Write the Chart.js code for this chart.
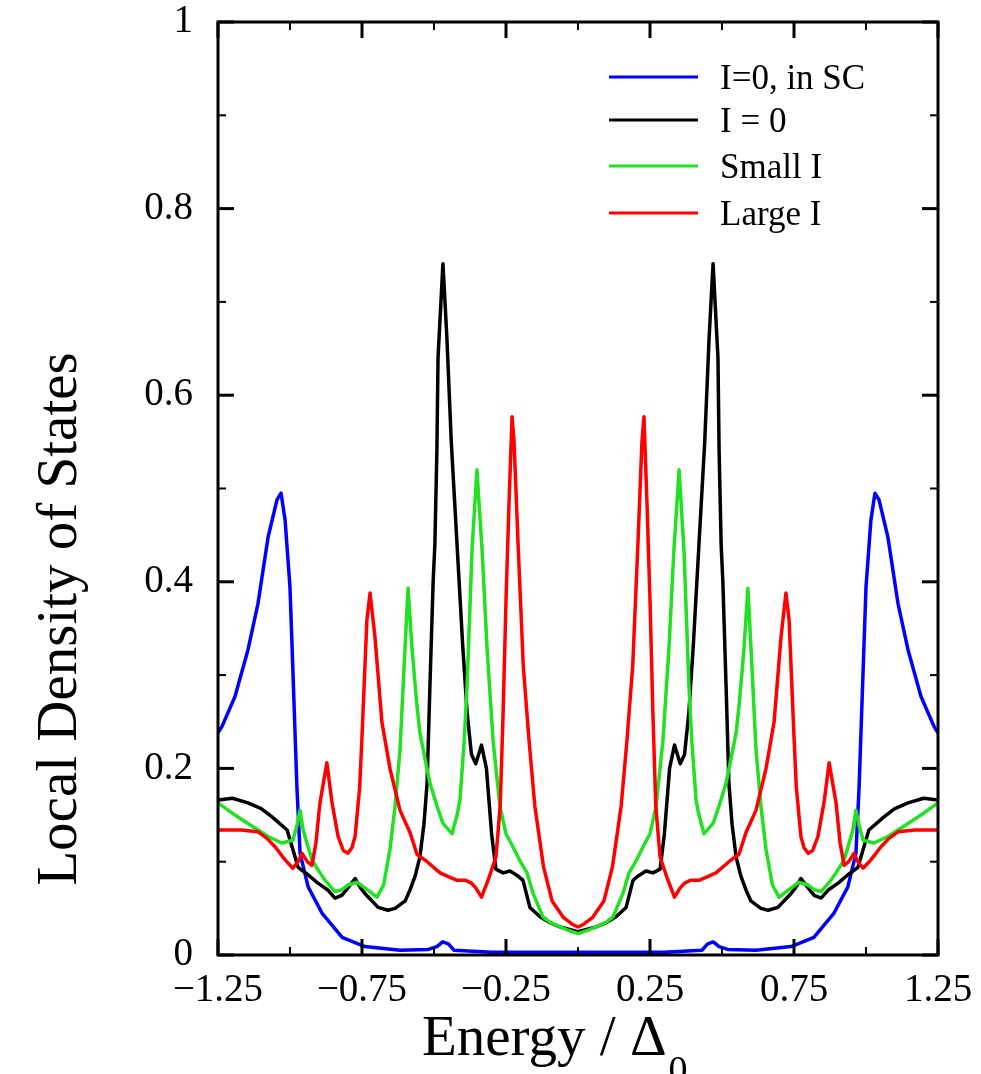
<!DOCTYPE html>
<html><head><meta charset="utf-8">
<script src="https://cdn.jsdelivr.net/npm/chart.js@4.4.1/dist/chart.umd.min.js"></script>
<style>html,body{margin:0;padding:0;background:#fff;}#wrap{width:981px;height:1074px;}</style>
</head><body><div id="wrap"><canvas id="c" width="981" height="1074"></canvas></div>
<script>
const xMajorTicks = [-1.25, -0.75, -0.25, 0.25, 0.75, 1.25];
const xTickLabels = ['\u22121.25', '\u22120.75', '\u22120.25', '0.25', '0.75', '1.25'];
const xMinorTicks = [-1, -0.5, 0, 0.5, 1];
const yMajorTicks = [0, 0.2, 0.4, 0.6, 0.8, 1];
const yTickLabels = ['0', '0.2', '0.4', '0.6', '0.8', '1'];
const yMinorTicks = [0.1, 0.3, 0.5, 0.7, 0.9];
const seriesNames = ['I=0, in SC', 'I = 0', 'Small I', 'Large I'];
const xTitle = 'Energy / \u0394';
const xTitleSub = '0';
const yTitle = 'Local Density of States';

// I=0, in SC  [energy, LDOS]
const scPts = [[-1.25,0.238],[-1.236,0.245],[-1.191,0.277],[-1.146,0.327],[-1.111,0.377],[-1.076,0.448],[-1.045,0.488],[-1.031,0.495],[-1.017,0.466],[-1.0,0.394],[-0.99,0.305],[-0.976,0.18],[-0.965,0.109],[-0.937,0.073],[-0.889,0.045],[-0.819,0.019],[-0.74,0.009],[-0.618,0.005],[-0.52,0.006],[-0.49,0.009],[-0.47,0.014],[-0.45,0.012],[-0.43,0.005],[-0.3,0.003],[-0.1,0.003],[0,0.003],
[0.1,0.003],[0.3,0.003],[0.43,0.005],[0.45,0.012],[0.47,0.014],[0.49,0.009],[0.52,0.006],[0.618,0.005],[0.74,0.009],[0.819,0.019],[0.889,0.045],[0.937,0.073],[0.965,0.109],[0.976,0.18],[0.99,0.305],[1.0,0.394],[1.017,0.466],[1.031,0.495],[1.045,0.488],[1.076,0.448],[1.111,0.377],[1.146,0.327],[1.191,0.277],[1.236,0.245],[1.25,0.238]];

// I = 0
const zeroPts = [[-1.25,0.166],[-1.2,0.168],[-1.146,0.163],[-1.1,0.157],[-1.0625,0.148],[-1.01,0.134],[-0.99,0.113],[-0.972,0.094],[-0.9375,0.086],[-0.903,0.077],[-0.87,0.07],[-0.844,0.061],[-0.82,0.064],[-0.799,0.072],[-0.774,0.082],[-0.755,0.072],[-0.74,0.066],[-0.694,0.051],[-0.66,0.048],[-0.635,0.05],[-0.6,0.058],[-0.583,0.07],[-0.565,0.085],[-0.549,0.105],[-0.535,0.14],[-0.524,0.184],[-0.514,0.29],[-0.503,0.40],[-0.497,0.44],[-0.49,0.54],[-0.486,0.64],[-0.469,0.741],[-0.455,0.66],[-0.44,0.55],[-0.42,0.44],[-0.40,0.33],[-0.385,0.26],[-0.37,0.215],[-0.355,0.205],[-0.335,0.225],[-0.318,0.2],[-0.30,0.13],[-0.285,0.092],[-0.26,0.088],[-0.236,0.09],[-0.21,0.085],[-0.191,0.08],[-0.167,0.051],[-0.132,0.041],[-0.1,0.035],[-0.0625,0.03],[0,0.025],
[0.0625,0.03],[0.1,0.035],[0.132,0.041],[0.167,0.051],[0.191,0.08],[0.21,0.085],[0.236,0.09],[0.26,0.088],[0.285,0.092],[0.30,0.13],[0.318,0.2],[0.335,0.225],[0.355,0.205],[0.37,0.215],[0.385,0.26],[0.40,0.33],[0.42,0.44],[0.44,0.55],[0.455,0.66],[0.469,0.741],[0.486,0.64],[0.49,0.54],[0.497,0.44],[0.503,0.40],[0.514,0.29],[0.524,0.184],[0.535,0.14],[0.549,0.105],[0.565,0.085],[0.583,0.07],[0.6,0.058],[0.635,0.05],[0.66,0.048],[0.694,0.051],[0.74,0.066],[0.755,0.072],[0.774,0.082],[0.799,0.072],[0.82,0.064],[0.844,0.061],[0.87,0.07],[0.903,0.077],[0.9375,0.086],[0.972,0.094],[0.99,0.113],[1.01,0.134],[1.0625,0.148],[1.1,0.157],[1.146,0.163],[1.2,0.168],[1.25,0.166]];

// Small I
const smallPts = [[-1.25,0.163],[-1.2,0.152],[-1.146,0.141],[-1.076,0.127],[-1.028,0.12],[-0.99,0.123],[-0.975,0.14],[-0.965,0.155],[-0.955,0.135],[-0.948,0.127],[-0.924,0.102],[-0.9,0.09],[-0.878,0.08],[-0.844,0.068],[-0.82,0.07],[-0.799,0.075],[-0.767,0.078],[-0.74,0.072],[-0.698,0.062],[-0.675,0.075],[-0.653,0.113],[-0.635,0.16],[-0.618,0.22],[-0.601,0.327],[-0.59,0.393],[-0.576,0.327],[-0.56,0.27],[-0.549,0.238],[-0.514,0.184],[-0.49,0.16],[-0.469,0.141],[-0.4375,0.13],[-0.42,0.15],[-0.41,0.166],[-0.395,0.23],[-0.385,0.29],[-0.368,0.434],[-0.351,0.52],[-0.333,0.434],[-0.316,0.33],[-0.295,0.23],[-0.271,0.159],[-0.25,0.13],[-0.226,0.116],[-0.2,0.1],[-0.177,0.088],[-0.156,0.066],[-0.122,0.041],[-0.097,0.035],[-0.038,0.027],[0,0.023],
[0.038,0.027],[0.097,0.035],[0.122,0.041],[0.156,0.066],[0.177,0.088],[0.2,0.1],[0.226,0.116],[0.25,0.13],[0.271,0.159],[0.295,0.23],[0.316,0.33],[0.333,0.434],[0.351,0.52],[0.368,0.434],[0.385,0.29],[0.395,0.23],[0.41,0.166],[0.42,0.15],[0.4375,0.13],[0.469,0.141],[0.49,0.16],[0.514,0.184],[0.549,0.238],[0.56,0.27],[0.576,0.327],[0.59,0.393],[0.601,0.327],[0.618,0.22],[0.635,0.16],[0.653,0.113],[0.675,0.075],[0.698,0.062],[0.74,0.072],[0.767,0.078],[0.799,0.075],[0.82,0.07],[0.844,0.068],[0.878,0.08],[0.9,0.09],[0.924,0.102],[0.948,0.127],[0.955,0.135],[0.965,0.155],[0.975,0.14],[0.99,0.123],[1.028,0.12],[1.076,0.127],[1.146,0.141],[1.2,0.152],[1.25,0.163]];

// Large I
const largePts = [[-1.25,0.134],[-1.17,0.134],[-1.111,0.132],[-1.08,0.125],[-1.052,0.116],[-1.017,0.102],[-0.99,0.093],[-0.972,0.1],[-0.958,0.109],[-0.94,0.1],[-0.924,0.096],[-0.91,0.12],[-0.896,0.163],[-0.872,0.206],[-0.854,0.163],[-0.833,0.127],[-0.815,0.112],[-0.799,0.109],[-0.785,0.115],[-0.774,0.127],[-0.758,0.18],[-0.75,0.234],[-0.733,0.359],[-0.722,0.388],[-0.705,0.341],[-0.681,0.25],[-0.653,0.2],[-0.618,0.155],[-0.583,0.131],[-0.559,0.108],[-0.524,0.1],[-0.479,0.088],[-0.45,0.084],[-0.42,0.08],[-0.39,0.08],[-0.37,0.077],[-0.355,0.072],[-0.335,0.062],[-0.31,0.082],[-0.285,0.105],[-0.27,0.16],[-0.26,0.26],[-0.25,0.38],[-0.24,0.48],[-0.229,0.577],[-0.222,0.55],[-0.208,0.44],[-0.19,0.31],[-0.17,0.23],[-0.15,0.16],[-0.12,0.095],[-0.09,0.058],[-0.05,0.04],[-0.02,0.033],[0,0.03],
[0.02,0.033],[0.05,0.04],[0.09,0.058],[0.12,0.095],[0.15,0.16],[0.17,0.23],[0.19,0.31],[0.208,0.44],[0.222,0.55],[0.229,0.577],[0.24,0.48],[0.25,0.38],[0.26,0.26],[0.27,0.16],[0.285,0.105],[0.31,0.082],[0.335,0.062],[0.355,0.072],[0.37,0.077],[0.39,0.08],[0.42,0.08],[0.45,0.084],[0.479,0.088],[0.524,0.1],[0.559,0.108],[0.583,0.131],[0.618,0.155],[0.653,0.2],[0.681,0.25],[0.705,0.341],[0.722,0.388],[0.733,0.359],[0.75,0.234],[0.758,0.18],[0.774,0.127],[0.785,0.115],[0.799,0.109],[0.815,0.112],[0.833,0.127],[0.854,0.163],[0.872,0.206],[0.896,0.163],[0.91,0.12],[0.924,0.096],[0.94,0.1],[0.958,0.109],[0.972,0.1],[0.99,0.093],[1.017,0.102],[1.052,0.116],[1.08,0.125],[1.111,0.132],[1.17,0.134],[1.25,0.134]];

const SERIF = '"Liberation Serif", "DejaVu Serif", serif';
const toXY = pts => pts.map(p => ({x: p[0], y: p[1]}));

const decor = {
  id: 'decor',
  afterDatasetsDraw(chart) {
    const {ctx, chartArea: a, scales: {x, y}} = chart;
    ctx.save();
    ctx.strokeStyle = '#000';
    ctx.lineCap = 'butt';
    const seg = (px, py, dx, dy, w) => { ctx.lineWidth = w; ctx.beginPath(); ctx.moveTo(px, py); ctx.lineTo(px + dx, py + dy); ctx.stroke(); };
    xMajorTicks.forEach(v => { const p = x.getPixelForValue(v); seg(p, a.bottom, 0, -16, 3); seg(p, a.top, 0, 16, 3); });
    xMinorTicks.forEach(v => { const p = x.getPixelForValue(v); seg(p, a.bottom, 0, -8, 2); seg(p, a.top, 0, 8, 2); });
    yMajorTicks.forEach(v => { const p = y.getPixelForValue(v); seg(a.left, p, 16, 0, 3); seg(a.right, p, -16, 0, 3); });
    yMinorTicks.forEach(v => { const p = y.getPixelForValue(v); seg(a.left, p, 8, 0, 2); seg(a.right, p, -8, 0, 2); });
    ctx.lineWidth = 3;
    ctx.strokeRect(a.left, a.top, a.right - a.left, a.bottom - a.top);

    // legend
    const rows = [77, 120, 166, 213];
    ctx.font = '35px ' + SERIF;
    ctx.textAlign = 'left';
    ctx.textBaseline = 'alphabetic';
    chart.data.datasets.forEach((ds, i) => {
      ctx.strokeStyle = ds.borderColor;
      ctx.lineWidth = 3;
      ctx.beginPath(); ctx.moveTo(609, rows[i]); ctx.lineTo(698, rows[i]); ctx.stroke();
      ctx.fillStyle = '#000';
      ctx.fillText(ds.label, 720, rows[i] + 12);
    });

    // x title with subscript
    ctx.fillStyle = '#000';
    ctx.font = '57px ' + SERIF;
    ctx.textAlign = 'left';
    ctx.fillText(xTitle, 422, 1055);
    const w = ctx.measureText(xTitle).width;
    ctx.font = '38px ' + SERIF;
    ctx.fillText(xTitleSub, 422 + w + 2, 1082);

    // y title
    ctx.save();
    ctx.translate(76, 619);
    ctx.rotate(-Math.PI / 2);
    ctx.font = '57px ' + SERIF;
    ctx.textAlign = 'center';
    ctx.textBaseline = 'alphabetic';
    ctx.fillText(yTitle, 0, 0);
    ctx.restore();
    ctx.restore();
  }
};

const lineDs = (label, pts, color, order) => ({
  label, data: toXY(pts), borderColor: color, backgroundColor: color,
  borderWidth: 3.5, pointRadius: 0, showLine: true, tension: 0, fill: false, order,
  borderJoinStyle: 'round'
});

new Chart(document.getElementById('c'), {
  type: 'scatter',
  data: {
    datasets: [
      lineDs(seriesNames[0], scPts, '#0000ff', 4),
      lineDs(seriesNames[1], zeroPts, '#000000', 3),
      lineDs(seriesNames[2], smallPts, '#22e022', 2),
      lineDs(seriesNames[3], largePts, '#ff0000', 1)
    ]
  },
  options: {
    responsive: false, animation: false, devicePixelRatio: 1,
    layout: {padding: {top: 22, right: 43, left: 0, bottom: 0}},
    plugins: {legend: {display: false}, tooltip: {enabled: false}},
    scales: {
      x: {
        type: 'linear', min: -1.25, max: 1.25,
        afterBuildTicks: s => { s.ticks = xMajorTicks.map(v => ({value: v})); },
        afterFit: s => { s.height = 119; s.paddingLeft = 0; s.paddingRight = 0; s.paddingTop = 0; s.paddingBottom = 0; },
        grid: {display: false, drawTicks: false},
        border: {display: false},
        ticks: {
          autoSkip: false, maxRotation: 0, padding: 16, color: '#000',
          font: {family: SERIF, size: 39, lineHeight: 1},
          callback: v => { const i = xMajorTicks.indexOf(v); return i >= 0 ? xTickLabels[i] : ''; }
        }
      },
      y: {
        type: 'linear', min: 0, max: 1,
        afterBuildTicks: s => { s.ticks = yMajorTicks.map(v => ({value: v})); },
        afterFit: s => { s.width = 218; s.paddingLeft = 0; s.paddingRight = 0; s.paddingTop = 0; s.paddingBottom = 0; },
        grid: {display: false, drawTicks: false},
        border: {display: false},
        ticks: {
          autoSkip: false, padding: 25, color: '#000',
          font: {family: SERIF, size: 39, lineHeight: 1},
          callback: v => { const i = yMajorTicks.indexOf(v); return i >= 0 ? yTickLabels[i] : ''; }
        }
      }
    }
  },
  plugins: [decor]
});
</script>
</body></html>
